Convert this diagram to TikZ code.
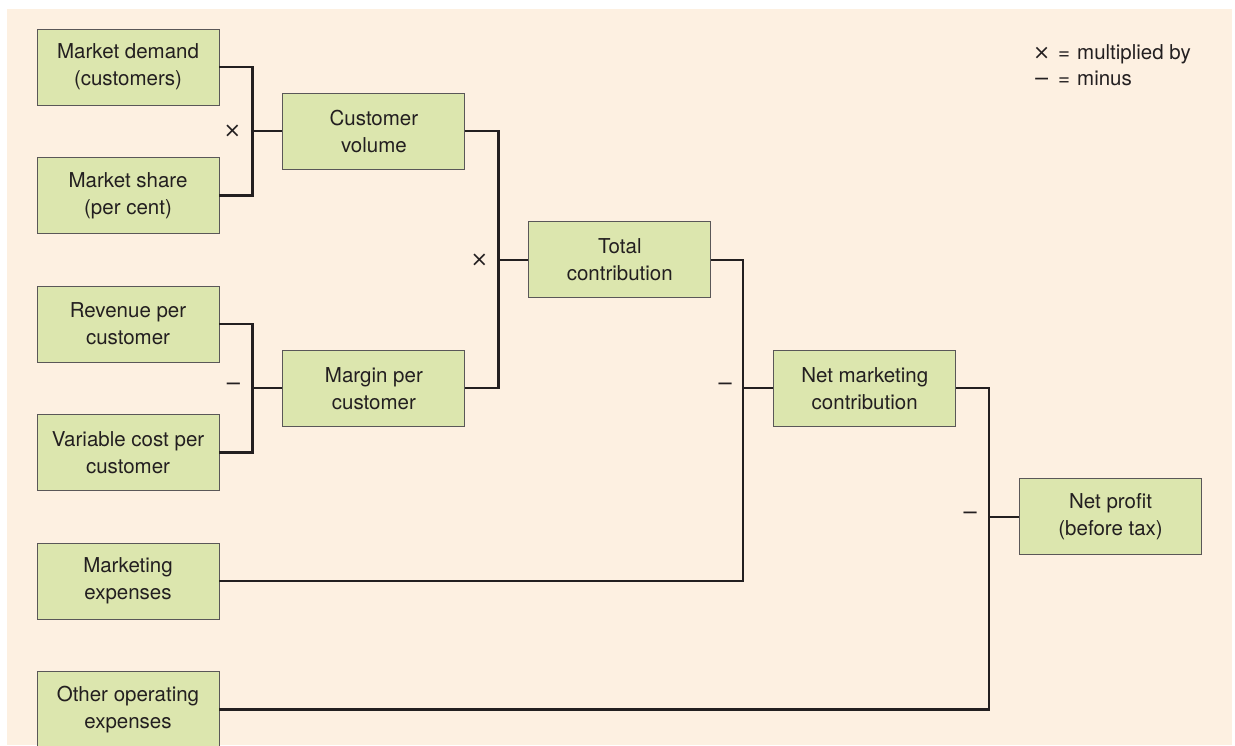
\documentclass[tikz,border=0pt]{standalone}
\usepackage{fontspec}
\setmainfont{TeX Gyre Heros}
\newfontfamily\opfont{DejaVu Sans}
\usetikzlibrary{positioning, calc}
\usepackage{xcolor}
\definecolor{paper}{HTML}{FDF0E1}
\definecolor{boxgreen}{HTML}{DCE6AE}
\definecolor{ink}{HTML}{231F20}

\begin{document}
\begin{tikzpicture}[
  x=1pt, y=-1pt,
  box/.style={rectangle, draw=ink!75, line width=0.9pt, fill=boxgreen, minimum width=182pt, minimum height=76pt, align=center, text=ink, font=\fontsize{20.5}{27}\selectfont},
  link/.style={draw=ink, line width=2.4pt},
  op/.style={text=ink, inner sep=0pt, font=\opfont\fontsize{21}{27}\selectfont},
  node distance=51.6pt and 63pt
]

% Page and background
\useasboundingbox (0,0) rectangle (1235,745);
\fill[paper] (7,9) rectangle (1232,745);

% Left Column Nodes
\node[box] (demand) at (128,67) {Market demand\\(customers)};
\node[box, below=of demand] (share) {Market share\\(per cent)};
\node[box, below=of share] (revenue) {Revenue per\\customer};
\node[box, below=of revenue] (varcost) {Variable cost per\\customer};
\node[box, below=of varcost] (mktexp) {Marketing\\expenses};
\node[box, below=of mktexp] (otherexp) {Other operating\\expenses};

% Intermediate Nodes
\node[box, right=of {$(demand.east)!0.5!(share.east)$}] (volume) {Customer\\volume};
\node[box, right=of {$(revenue.east)!0.5!(varcost.east)$}] (margin) {Margin per\\customer};
\node[box, right=of {$(volume.east)!0.5!(margin.east)$}] (total) {Total\\contribution};
\node[box, right=62pt of {$(total.east |- margin.east)$}] (netmkt) {Net marketing\\contribution};
\node[box, right=of {$(netmkt.east |- varcost.east)!0.5!(netmkt.east |- mktexp.east)$}] (profit) {Net profit\\(before tax)};

% Junction points
\coordinate (jvol) at ($(volume.west)+(-30,0)$);
\coordinate (jmar) at ($(margin.west)+(-30,0)$);
\coordinate (jtot) at ($(total.west)+(-30,0)$);
\coordinate (jnet) at ($(netmkt.west)+(-30,0)$);
\coordinate (jpro) at ($(profit.west)+(-30,0)$);

% Connectors
\draw[link] (demand.east) -| (jvol) |- (share.east);
\draw[link] (jvol) -- (volume.west);
\draw[link] (revenue.east) -| (jmar) |- (varcost.east);
\draw[link] (jmar) -- (margin.west);
\draw[link] (volume.east) -| (jtot) |- (margin.east);
\draw[link] (jtot) -- (total.west);
\draw[link] (total.east) -| (jnet) |- (mktexp.east);
\draw[link] (jnet) -- (netmkt.west);
\draw[link] (netmkt.east) -| (jpro) |- (otherexp.east);
\draw[link] (jpro) -- (profit.west);

% Operator signs
\node[op] (opvol) at ($(jvol)+(-20,0)$) {×};
\node[op] (opmar) at ($(jmar)+(-19,-1)$) {−};
\node[op] (optot) at ($(jtot)+(-19,0)$) {×};
\node[op] (opnet) at ($(jnet)+(-18,-1)$) {−};
\node[op] (oppro) at ($(jpro)+(-19,-1)$) {−};

% Legend
\node[op, anchor=west, align=left, font=\fontsize{20.5}{26}\selectfont] (legend) at (1033,65) {\makebox[25pt][l]{\opfont ×}\makebox[19pt][l]{=}multiplied by\\\makebox[25pt][l]{\opfont −}\makebox[19pt][l]{=}minus};

\end{tikzpicture}
\end{document}
